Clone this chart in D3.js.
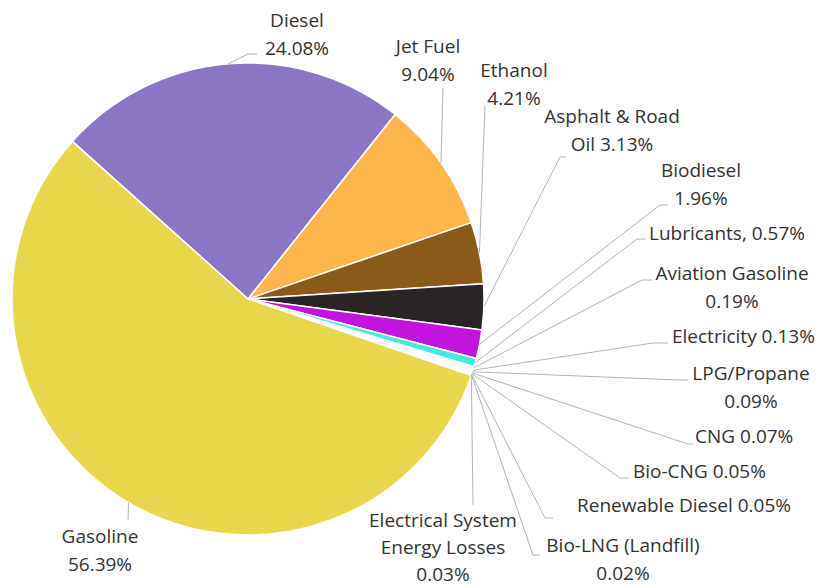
<!DOCTYPE html>
<html>
<head>
<meta charset="utf-8">
<script src="https://cdn.jsdelivr.net/npm/d3@7"></script>
<style>
  html, body { margin: 0; padding: 0; background: #ffffff; }
  svg { display: block; }
  text { font-family: "Open Sans", "Noto Sans", sans-serif; fill: #333333; }
</style>
</head>
<body>
<svg id="chart" width="832" height="588"></svg>
<script>
// ---- data ----
const categories = ["Diesel", "Jet Fuel", "Ethanol", "Asphalt & Road Oil", "Biodiesel",
  "Lubricants", "Aviation Gasoline", "Electricity", "LPG/Propane", "CNG", "Bio-CNG",
  "Renewable Diesel", "Bio-LNG (Landfill)", "Electrical System Energy Losses", "Gasoline"];
const shares = [24.08, 9.04, 4.21, 3.13, 1.96, 0.57, 0.19, 0.13, 0.09, 0.07, 0.05, 0.05, 0.02, 0.03, 56.39];
const labelTexts = [
  ["Diesel", "24.08%"],
  ["Jet Fuel", "9.04%"],
  ["Ethanol", "4.21%"],
  ["Asphalt & Road", "Oil 3.13%"],
  ["Biodiesel", "1.96%"],
  ["Lubricants, 0.57%"],
  ["Aviation Gasoline", "0.19%"],
  ["Electricity 0.13%"],
  ["LPG/Propane", "0.09%"],
  ["CNG 0.07%"],
  ["Bio-CNG 0.05%"],
  ["Renewable Diesel 0.05%"],
  ["Bio-LNG (Landfill)", "0.02%"],
  ["Electrical System", "Energy Losses", "0.03%"],
  ["Gasoline", "56.39%"]
];
const colors = ["#8a76c5", "#fdb64c", "#8b5a18", "#2a2525", "#c412e0", "#3eeaea",
  "#fdfdfd", "#fdfdfd", "#fdfdfd", "#fdfdfd", "#fdfdfd", "#fdfdfd", "#fdfdfd", "#fdfdfd", "#e7d84b"];

// ---- layout (label placement, leader elbows / ends) ----
const cx = 248, cy = 299, radius = 236;
const startDeg = -48.1;
const labelLayout = [
  { x: 297, y: 27,  anchor: "middle", lh: 27.5, elbow: [248, 54],  end: [257, 54] },
  { x: 428, y: 53,  anchor: "middle", lh: 27.5, elbow: null,       end: [443, 88] },
  { x: 514, y: 77,  anchor: "middle", lh: 27.5, elbow: null,       end: [485, 105] },
  { x: 612, y: 123, anchor: "middle", lh: 27.5, elbow: [560, 157], end: [566, 157] },
  { x: 701, y: 177, anchor: "middle", lh: 27.5, elbow: [660, 205], end: [668, 205] },
  { x: 649, y: 240, anchor: "start",  lh: 27.5, elbow: [637, 239], end: [646, 239] },
  { x: 732, y: 280, anchor: "middle", lh: 27.5, elbow: [642, 280], end: [652, 280] },
  { x: 672, y: 343, anchor: "start",  lh: 27.5, elbow: [653, 343], end: [668, 343] },
  { x: 751, y: 380, anchor: "middle", lh: 27.5, elbow: [680, 380], end: [688, 380] },
  { x: 695, y: 443, anchor: "start",  lh: 27.5, elbow: [688, 444], end: [693, 444] },
  { x: 633, y: 478, anchor: "start",  lh: 27.5, elbow: [620, 478], end: [628, 478] },
  { x: 577, y: 512, anchor: "start",  lh: 27.5, elbow: [545, 518], end: [553, 518] },
  { x: 623, y: 552, anchor: "middle", lh: 27.5, elbow: [533, 555], end: [540, 555] },
  { x: 443, y: 527, anchor: "middle", lh: 27,   elbow: null,       end: [473, 505] },
  { x: 100, y: 543, anchor: "middle", lh: 27.5, elbow: null,       end: [128, 520] }
];

// ---- drawing ----
const svg = d3.select("#chart");
const a0 = startDeg * Math.PI / 180;
const pie = d3.pie().sort(null).value(d => d).startAngle(a0).endAngle(a0 + 2 * Math.PI);
const arcs = pie(shares);
const arc = d3.arc().innerRadius(0).outerRadius(radius);
const edgeArc = d3.arc().innerRadius(radius).outerRadius(radius);

const g = svg.append("g").attr("transform", `translate(${cx},${cy})`);
g.selectAll("path.slice")
  .data(arcs)
  .join("path")
  .attr("class", "slice")
  .attr("d", arc)
  .attr("fill", (d, i) => colors[i])
  .attr("stroke", "#ffffff")
  .attr("stroke-width", 1.5)
  .attr("stroke-linejoin", "round");

// leader lines
const leaders = svg.append("g");
arcs.forEach((d, i) => {
  const c = edgeArc.centroid(d);
  const p0 = [cx + c[0], cy + c[1]];
  const L = labelLayout[i];
  const pts = [p0];
  if (L.elbow) pts.push(L.elbow);
  pts.push(L.end);
  leaders.append("path")
    .attr("d", d3.line()(pts))
    .attr("fill", "none")
    .attr("stroke", "#b4b4b4")
    .attr("stroke-width", 1);
});

// labels
const labels = svg.append("g");
labelTexts.forEach((lines, i) => {
  const L = labelLayout[i];
  const t = labels.append("text")
    .attr("x", L.x)
    .attr("y", L.y)
    .attr("text-anchor", L.anchor)
    .style("font-size", "19px");
  lines.forEach((s, j) => {
    t.append("tspan").attr("x", L.x).attr("y", L.y + j * L.lh).text(s);
  });
});
</script>
</body>
</html>
